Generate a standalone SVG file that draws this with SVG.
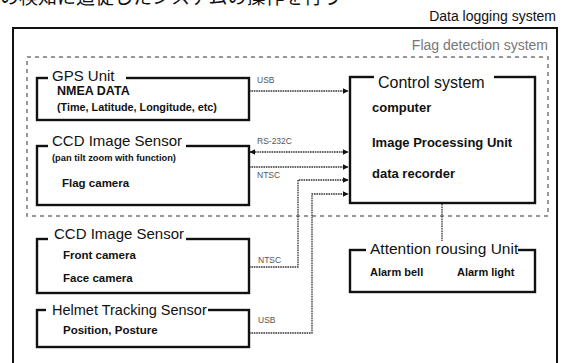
<svg xmlns="http://www.w3.org/2000/svg" width="563" height="363" viewBox="0 0 563 363">
<defs>
<marker id="ah" viewBox="0 0 10 10" refX="9" refY="5" markerWidth="6" markerHeight="6" markerUnits="userSpaceOnUse" orient="auto-start-reverse">
<path d="M0,0 L10,5 L0,10 z" fill="#111"/>
</marker>
<style>
.box{fill:#fff;stroke:#111;stroke-width:2.4}
.t{font-family:"Liberation Sans",Arial,sans-serif;fill:#111}
.title{font-size:15px}
.b{font-weight:bold;font-size:12px}
.lbl{font-size:8.5px;fill:#555}
.conn{fill:none;stroke:#333;stroke-width:1.3;stroke-dasharray:1.6 0.8}
.gap{fill:#fff}
</style>
</defs>
<rect width="563" height="363" fill="#fff"/>
<text x="0" y="4" font-family="'Noto Sans CJK JP',sans-serif" font-size="19" fill="#111">の検知に追従したシステムの操作を行う</text>

<g id="data-logging-system">
<rect x="13" y="28" width="544" height="345" fill="none" stroke="#111" stroke-width="2"/>
<text class="t" x="556" y="21" font-size="14" text-anchor="end">Data logging system</text>
</g>
<g id="flag-detection-system">
<rect x="27" y="57" width="521" height="159" fill="none" stroke="#777" stroke-width="1.5" stroke-dasharray="4 4"/>
<text class="t" x="548" y="50" font-size="14" text-anchor="end" style="fill:#777">Flag detection system</text>
</g>

<g id="connectors">
<path class="conn" d="M249,91 H348" marker-end="url(#ah)"/>
<path class="conn" d="M250,152 H348" marker-start="url(#ah)" marker-end="url(#ah)"/>
<path class="conn" d="M249,167 H348" marker-end="url(#ah)"/>
<path class="conn" d="M249,267 H298 V180 H348" marker-end="url(#ah)"/>
<path class="conn" d="M249,333 H312 V194 H348" marker-end="url(#ah)"/>
<path class="conn" d="M442,204 V249" marker-end="url(#ah)"/>
<text class="t lbl" x="257" y="83">USB</text>
<text class="t lbl" x="257" y="144">RS-232C</text>
<text class="t lbl" x="257" y="178">NTSC</text>
<text class="t lbl" x="258" y="263">NTSC</text>
<text class="t lbl" x="258" y="323">USB</text>
</g>

<g id="gps-unit">
<rect class="box" x="37" y="78" width="212" height="42"/>
<rect class="gap" x="48" y="70" width="78" height="14"/>
<text class="t title" x="52" y="81">GPS Unit</text>
<text class="t b" x="57" y="95" style="font-size:12.5px">NMEA DATA</text>
<text class="t b" x="57" y="111" style="font-size:10.8px">(Time, Latitude, Longitude, etc)</text>
</g>

<g id="ccd-flag">
<rect class="box" x="37" y="146" width="212" height="59"/>
<rect class="gap" x="48" y="136" width="138" height="16"/>
<text class="t title" x="52" y="146">CCD Image Sensor</text>
<text class="t b" x="52" y="161" style="font-size:9.3px">(pan tilt zoom with function)</text>
<text class="t b" x="62" y="187" style="font-size:11.5px">Flag camera</text>
</g>

<g id="ccd-front">
<rect class="box" x="37" y="239" width="212" height="54"/>
<rect class="gap" x="48" y="228" width="138" height="16"/>
<text class="t title" x="54" y="239">CCD Image Sensor</text>
<text class="t b" x="63" y="259" style="font-size:11.5px">Front camera</text>
<text class="t b" x="63" y="282" style="font-size:11.5px">Face camera</text>
</g>

<g id="helmet">
<rect class="box" x="37" y="310" width="212" height="37"/>
<rect class="gap" x="46" y="301" width="162" height="16"/>
<text class="t title" x="52" y="315" style="font-size:14.5px">Helmet Tracking Sensor</text>
<text class="t b" x="63" y="334" style="font-size:11.5px">Position, Posture</text>
</g>

<g id="control-system">
<rect class="box" x="350" y="77" width="185" height="126"/>
<rect class="gap" x="374" y="68" width="120" height="18"/>
<text class="t" x="378" y="88" font-size="16">Control system</text>
<text class="t b" x="372" y="112" style="font-size:13px">computer</text>
<text class="t b" x="372" y="147" style="font-size:13px">Image Processing Unit</text>
<text class="t b" x="372" y="178" style="font-size:13px">data recorder</text>
</g>

<g id="attention-unit">
<rect class="box" x="350" y="250" width="185" height="42"/>
<rect class="gap" x="366" y="241" width="152" height="16"/>
<text class="t title" x="370" y="254" style="font-size:15.5px">Attention rousing Unit</text>
<text class="t b" x="370" y="276" style="font-size:11px">Alarm bell</text>
<text class="t b" x="457" y="276" style="font-size:11px">Alarm light</text>
</g>
</svg>
